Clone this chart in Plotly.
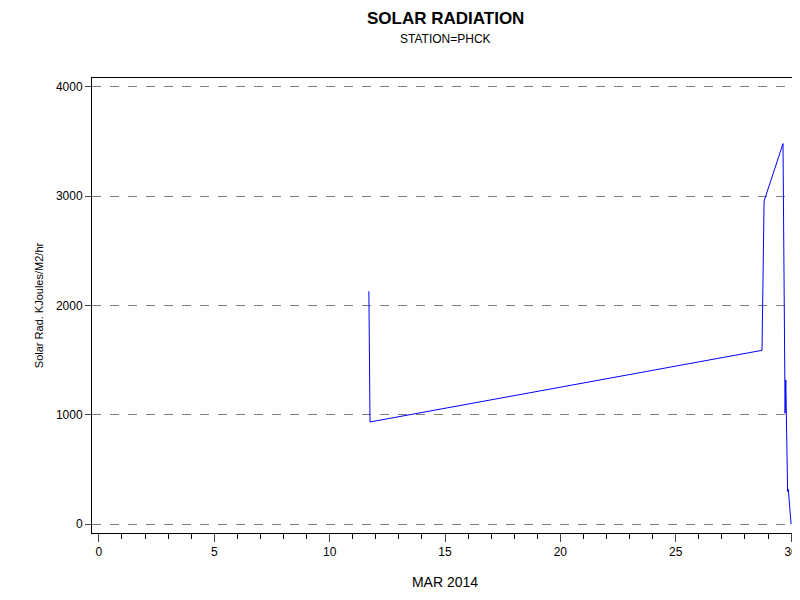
import plotly.graph_objects as go

# Day of March 2014 (fractional) and solar radiation values
day = [11.70, 11.75, 28.74, 28.83, 29.65, 29.74, 29.77, 29.85, 29.88, 30.0]
solar_rad = [2130, 935, 1590, 2955, 3480, 1015, 1320, 300, 320, 0]

fig = go.Figure(go.Scatter(x=day, y=solar_rad, mode="lines",
                           line=dict(color="blue", width=1), showlegend=False))

fig.update_layout(
    width=800, height=600,
    paper_bgcolor="white", plot_bgcolor="white",
    margin=dict(l=84, r=10, t=70, b=75),
    font=dict(family="Liberation Sans, Arial", size=12, color="black"),
    annotations=[
        dict(text="<b>SOLAR RADIATION</b>", x=0.5, y=1.155, xref="paper", yref="paper",
             xanchor="center", showarrow=False, font=dict(size=17)),
        dict(text="STATION=PHCK", x=0.5, y=1.105, xref="paper", yref="paper",
             xanchor="center", showarrow=False, font=dict(size=12)),
    ],
)
fig.update_xaxes(range=[-0.3, 30.3], tickvals=[0, 5, 10, 15, 20, 25, 30],
                 ticks="outside", ticklen=8, showgrid=False, zeroline=False,
                 showline=True, linecolor="black", mirror=True, automargin=False,
                 minor=dict(dtick=1, ticks="outside", ticklen=5, tickcolor="black"),
                 title=dict(text="MAR 2014", standoff=18))
fig.update_yaxes(range=[-80, 4080], tickvals=[0, 1000, 2000, 3000, 4000],
                 ticks="outside", ticklen=6, showgrid=True, gridcolor="gray",
                 griddash="dash", zeroline=False, showline=True, linecolor="black",
                 mirror=True, automargin=False,
                 title=dict(text="Solar Rad. KJoules/M2/hr", standoff=10,
                            font=dict(size=11)))

fig.write_html("out.html")
